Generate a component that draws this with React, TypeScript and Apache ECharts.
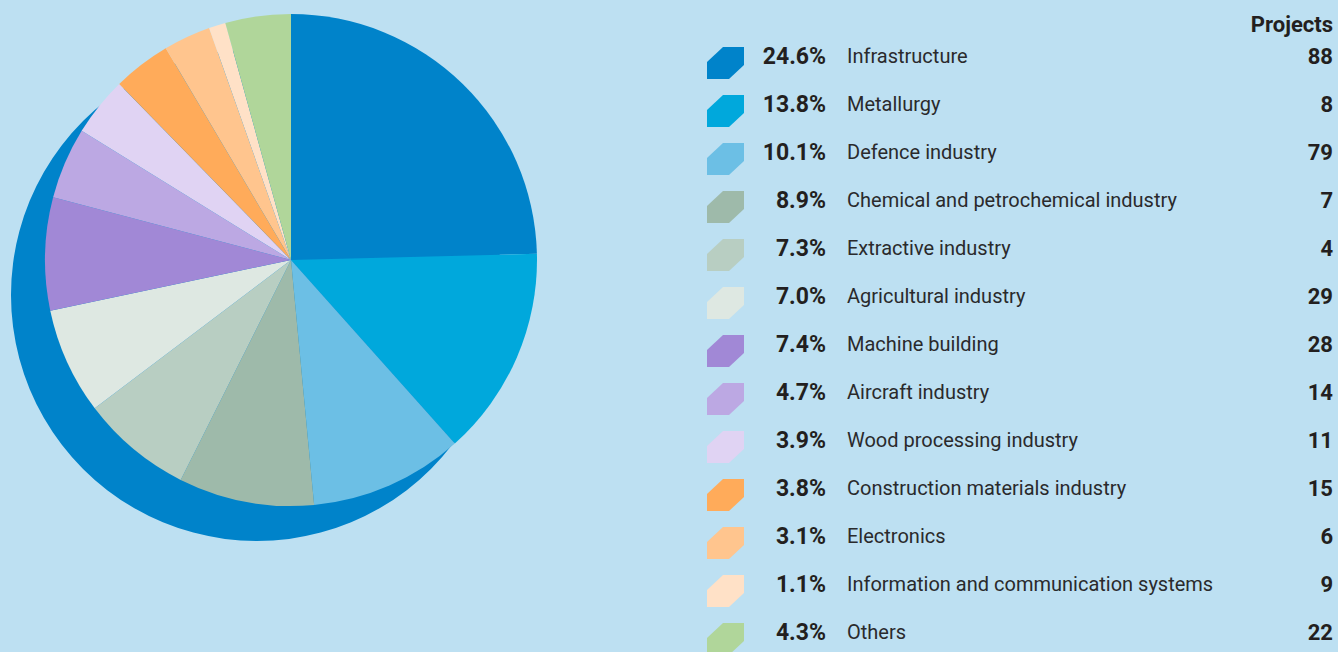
import React, { useEffect, useRef } from "react";
import * as echarts from "echarts";

const categories = [
  "Infrastructure",
  "Metallurgy",
  "Defence industry",
  "Chemical and petrochemical industry",
  "Extractive industry",
  "Agricultural industry",
  "Machine building",
  "Aircraft industry",
  "Wood processing industry",
  "Construction materials industry",
  "Electronics",
  "Information and communication systems",
  "Others",
];
const shares = [24.6, 13.8, 10.1, 8.9, 7.3, 7.0, 7.4, 4.7, 3.9, 3.8, 3.1, 1.1, 4.3];
const projects = [88, 8, 79, 7, 4, 29, 28, 14, 11, 15, 6, 9, 22];
const colors = [
  "#0083CA",
  "#00A8DC",
  "#6CBFE5",
  "#9EBAAA",
  "#B8CEC2",
  "#DEE8E2",
  "#A188D6",
  "#BCA8E3",
  "#E0D3F3",
  "#FFAB5A",
  "#FFC58E",
  "#FFE1C7",
  "#B0D69A",
];

const FONT = "Roboto, 'Noto Sans', sans-serif";
const TEXT = "#231F20";
const BG = "#BDE0F2";

export default function App() {
  const ref = useRef<HTMLDivElement>(null);
  useEffect(() => {
    document.body.style.margin = "0";
    document.body.style.background = BG;
    const chart = echarts.init(ref.current!, null, { renderer: "svg" });
    const data = categories.map((name, i) => ({
      name,
      value: shares[i],
      itemStyle: { color: colors[i] },
    }));

    const rowTop = 47;
    const rowStep = 48;
    const legendEls: any[] = [];
    categories.forEach((name, i) => {
      const top = rowTop + i * rowStep;
      const cy = top + 9;
      legendEls.push({
        type: "polygon",
        silent: true,
        shape: {
          points: [
            [723, top],
            [744, top],
            [744, top + 18],
            [729, top + 32],
            [707, top + 32],
            [707, top + 15],
          ],
        },
        style: { fill: colors[i] },
      });
      legendEls.push({
        type: "text",
        x: 826,
        y: cy,
        style: {
          text: shares[i].toFixed(1) + "%",
          font: `bold 23px ${FONT}`,
          fill: TEXT,
          textAlign: "right",
          textVerticalAlign: "middle",
        },
      });
      legendEls.push({
        type: "text",
        x: 847,
        y: cy,
        style: {
          text: name,
          font: `20px ${FONT}`,
          fill: "#2A2A2C",
          textAlign: "left",
          textVerticalAlign: "middle",
        },
      });
      legendEls.push({
        type: "text",
        x: 1333,
        y: cy,
        style: {
          text: String(projects[i]),
          font: `bold 22px ${FONT}`,
          fill: TEXT,
          textAlign: "right",
          textVerticalAlign: "middle",
        },
      });
    });
    legendEls.push({
      type: "text",
      x: 1333,
      y: 24,
      style: {
        text: "Projects",
        font: `bold 22px ${FONT}`,
        fill: TEXT,
        textAlign: "right",
        textVerticalAlign: "middle",
      },
    });

    chart.setOption({
      animation: false,
      backgroundColor: BG,
      textStyle: { fontFamily: FONT },
      graphic: { elements: legendEls },
      series: [
        {
          type: "pie",
          silent: true,
          legendHoverLink: false,
          center: [257, 295],
          radius: 246,
          z: 1,
          label: { show: false },
          labelLine: { show: false },
          data: [{ name: "_shadow", value: 1, itemStyle: { color: "#0083CA" } }],
        },
        {
          type: "pie",
          center: [291, 260],
          radius: 246,
          startAngle: 90,
          clockwise: true,
          z: 2,
          label: { show: false },
          labelLine: { show: false },
          itemStyle: { borderWidth: 0 },
          emphasis: { disabled: true },
          data,
        },
      ],
    });
    return () => chart.dispose();
  }, []);
  return <div ref={ref} style={{ width: 1338, height: 652, background: BG }} />;
}
